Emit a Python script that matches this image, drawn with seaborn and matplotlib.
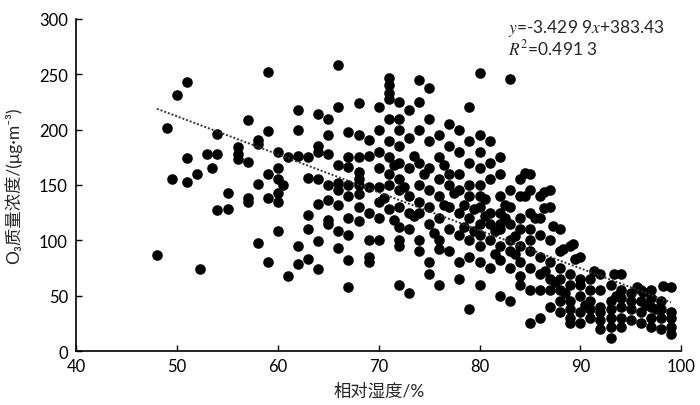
import matplotlib
matplotlib.use("Agg")
import matplotlib.pyplot as plt
import numpy as np
import pandas as pd
import seaborn as sns

# relative humidity (%) and O3 concentration (ug/m3)
humidity = [
    48, 49, 50, 49.5, 51, 51, 51, 52.3, 52,
    53, 54, 54, 54, 55, 55, 53.5,
    56, 56, 57, 57, 57, 57, 58, 58, 56, 58, 58,
    59, 59, 59, 59, 59, 60, 60, 60, 60, 60, 60, 61, 61, 60.5,
    62, 62, 62, 62, 63, 63, 63, 63, 62, 64, 64, 64, 64, 64, 64, 63, 64,
    65, 65, 65, 65, 65, 65, 65, 66, 66, 66, 66, 66, 66, 66, 67, 67, 67, 67, 67, 67, 67, 67, 67, 66,
    68, 68, 68, 68, 68, 68, 68, 69, 69, 69, 69, 69, 69, 69, 68, 68, 70, 70, 70, 70, 70, 70, 70, 70,
    71, 71, 71, 71, 71, 71, 71, 71, 71, 71, 72, 72, 72, 72, 72, 72, 72, 72, 72, 72, 72, 72, 73,
    73, 73, 73, 73, 73, 73,
    74, 74, 74, 74, 74, 74, 74, 74, 74, 75, 75, 75, 75, 75, 75, 75, 75, 75,
    76, 76, 76, 76, 76, 76, 76, 76,
    77, 77, 77, 77, 77, 77, 77, 78, 78, 78, 78, 78, 78, 78, 78,
    79, 79, 79, 79, 79, 79, 79, 79, 79,
    80, 80, 80, 80, 80, 80, 80, 80, 80, 80, 80, 80, 81, 81, 81, 81, 81, 81, 81,
    82, 82, 82, 82, 82, 82, 82, 82, 82,
    83, 83, 83, 83, 83, 83, 83, 83, 84, 84, 84, 84, 84, 84, 84, 84,
    85, 85, 85, 85, 85, 85, 85, 85, 85, 86,
    86, 86, 86, 86, 86, 86, 87, 87, 87, 87, 87, 87, 87,
    88, 88, 88, 88, 88, 88, 88, 89, 89, 89, 89, 89, 89, 89,
    90, 90, 90, 90, 90, 90, 91, 91, 91, 91, 91, 92, 92, 92, 92, 92, 92,
    93, 93, 93, 93, 93, 93, 94, 94, 94, 94, 94, 94, 95, 95, 95, 95,
    96, 96, 96, 96, 97, 97, 97, 97, 97, 98, 98, 98, 98, 99, 99, 99, 99, 99,
    84.5, 84.5, 86.4, 86.4, 85.5, 87.3, 88.3, 89.3, 89.5, 91.4, 93.3, 98.2, 95.6, 96.2,
    70.5, 71.5, 72.5, 73.5, 74.5, 75.5, 76.5, 77.5, 78.5, 79.5, 80.5, 81.5, 82.5, 83.5,
    71.5, 73.5, 76.5, 78.5, 79.5, 80.5, 81.5, 82.5, 83.5, 86.5, 87.5, 88.5, 90.5, 93.5, 96.5, 97.5,
]
o3 = [
    87, 201, 231, 155, 243, 174, 153, 74, 160,
    178, 178, 196, 127, 128, 143, 165,
    173, 178, 209, 171, 135, 138, 191, 98, 184, 151, 187,
    252, 199, 80, 160, 138, 155, 143, 135, 165, 180, 108, 175, 68, 150,
    218, 200, 95, 79, 175, 156, 123, 110, 176, 214, 185, 180, 155, 133, 99, 83, 74,
    210, 195, 178, 150, 136, 118, 115, 258, 220, 168, 152, 145, 132, 93, 198, 175, 166, 150, 140, 120, 105, 82, 58, 108,
    224, 195, 175, 162, 150, 130, 117, 191, 176, 148, 125, 100, 85, 80, 155, 142, 220, 200, 180, 165, 148, 135, 120, 100,
    247, 240, 233, 228, 210, 190, 175, 160, 150, 128, 225, 210, 200, 185, 170, 155, 145, 130, 112, 100, 95, 60, 52,
    218, 192, 165, 140, 125, 110,
    245, 225, 200, 170, 150, 135, 125, 100, 90, 238, 210, 190, 165, 145, 130, 115, 80, 70,
    195, 175, 155, 140, 120, 100, 92, 60,
    205, 185, 160, 150, 130, 110, 90, 200, 180, 160, 145, 125, 105, 80, 65,
    220, 190, 170, 150, 140, 120, 100, 85, 38,
    251, 195, 180, 165, 150, 140, 130, 115, 105, 95, 80, 60, 190, 170, 155, 125, 115, 100, 75,
    175, 160, 140, 125, 110, 95, 82, 50, 115,
    246, 145, 130, 115, 100, 90, 75, 45, 155, 140, 120, 110, 95, 80, 68, 60,
    160, 145, 125, 110, 100, 90, 75, 55, 25, 30,
    140, 120, 105, 85, 70, 55, 145, 130, 100, 80, 65, 55, 40,
    110, 90, 75, 65, 55, 45, 35, 95, 70, 60, 45, 38, 30, 25,
    85, 65, 60, 50, 35, 25, 65, 55, 45, 38, 30, 70, 55, 40, 35, 28, 20,
    60, 45, 38, 30, 12, 22, 70, 55, 48, 40, 30, 22, 52, 45, 38, 28,
    55, 45, 35, 25, 55, 48, 40, 30, 22, 45, 38, 30, 20, 58, 35, 30, 22, 15,
    161, 140, 144, 129, 120, 113, 92, 97, 83, 72, 70, 59, 58, 53,
    138, 118, 148, 122, 160, 107, 132, 143, 112, 128, 137, 108, 120, 88,
    168, 176, 168, 132, 108, 122, 88, 132, 104, 72, 62, 52, 42, 50, 42, 38,
]

# trend line from the figure's equation
slope = -3.4299
intercept = 383.43

df = pd.DataFrame({"humidity": humidity, "o3": o3})

sns.set_style("ticks")
plt.rcParams["font.family"] = ["Lato", "Noto Sans CJK SC", "DejaVu Sans"]
plt.rcParams["mathtext.fontset"] = "stix"

fig = plt.figure(figsize=(7, 4.06), dpi=100)
ax = fig.add_axes([0.109, 0.133, 0.864, 0.818])

sns.scatterplot(data=df, x="humidity", y="o3", color="black", s=58,
                linewidth=0, ax=ax, legend=False)

xs = np.array([min(humidity), max(humidity)])
ax.plot(xs, slope * xs + intercept, color="#333333", linestyle=(0, (1, 1)),
        linewidth=1.4)

ax.set_xlim(40, 100)
ax.set_ylim(0, 300)
ax.set_xticks(range(40, 101, 10))
ax.set_yticks(range(0, 301, 50))
ax.tick_params(direction="in", length=4, width=1, labelsize=12, colors="black")
ax.tick_params(axis="y", pad=6)
ax.tick_params(axis="x", pad=5)
for side in ["left", "bottom"]:
    ax.spines[side].set_color("black")
    ax.spines[side].set_linewidth(1.2)
sns.despine(ax=ax)

ax.set_xlabel("相对湿度/%", fontsize=12.5, labelpad=6)
ax.set_ylabel("O₃质量浓度/(μg·m⁻³)", fontsize=12.5, labelpad=12)

ax.text(82.8, 292.5, "$y$=-3.429 9$x$+383.43", fontsize=12.5, va="center")
ax.text(82.8, 274.5, "$R^2$=0.491 3", fontsize=12.5, va="center")

fig.savefig("out.png", dpi=100)
